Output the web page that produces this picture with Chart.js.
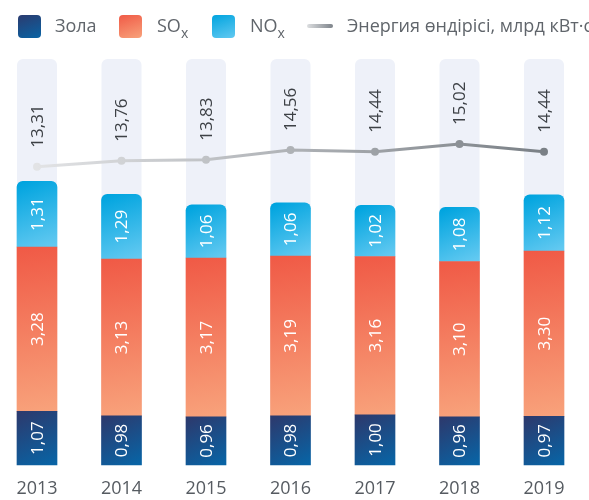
<!DOCTYPE html>
<html>
<head>
<meta charset="utf-8">
<script src="https://cdn.jsdelivr.net/npm/chart.js@4/dist/chart.umd.min.js"></script>
<style>
  html, body { margin: 0; padding: 0; background: #fff; }
  #wrap { position: relative; width: 589px; height: 500px; overflow: hidden; }
  #c { position: absolute; left: 0; top: 0; }
  #legend { position: absolute; left: 0; top: 15px; height: 23px; width: 589px; white-space: nowrap;
    font-family: "Open Sans", sans-serif; font-size: 18px; color: #60656b; }
  .box { position: absolute; top: 0; width: 23px; height: 23px; border-radius: 4px; }
  .lbl { position: absolute; top: -1px; line-height: 23px; }
  sub { font-size: 14px; vertical-align: -6px; line-height: 0; }
  .ln { position: absolute; top: 9px; width: 26px; height: 4px; border-radius: 2px;
    background: linear-gradient(90deg, #dcdee0, #7d838a); }
</style>
</head>
<body>
<div id="wrap">
  <canvas id="c" width="589" height="500"></canvas>
  <div id="legend">
    <div class="box" style="left:18px;background:linear-gradient(160deg,#2b3b6f,#0963a4);"></div>
    <div class="lbl" style="left:55px;">Зола</div>
    <div class="box" style="left:119px;background:linear-gradient(160deg,#f05a46,#f8a27b);"></div>
    <div class="lbl" style="left:157px;">SO<sub>x</sub></div>
    <div class="box" style="left:212px;background:linear-gradient(160deg,#00a4df,#62c9f1);"></div>
    <div class="lbl" style="left:250px;">NO<sub>x</sub></div>
    <div class="ln" style="left:307px;"></div>
    <div class="lbl" style="left:347px;">Энергия өндірісі, млрд кВт·с</div>
  </div>
</div>
<script>
// ---- data ----
const years  = ['2013', '2014', '2015', '2016', '2017', '2018', '2019'];
const zola   = [1.07, 0.98, 0.96, 0.98, 1.00, 0.96, 0.97];
const sox    = [3.28, 3.13, 3.17, 3.19, 3.16, 3.10, 3.30];
const nox    = [1.31, 1.29, 1.06, 1.06, 1.02, 1.08, 1.12];
const energy = [13.31, 13.76, 13.83, 14.56, 14.44, 15.02, 14.44];

const series = [zola, sox, nox];
const FONT = '"Open Sans", sans-serif';
const fmt = v => v.toFixed(2).replace('.', ',');

function segGrad(dsIndex, top, bottom) {
  return (c) => {
    const chart = c.chart;
    const ca = chart.chartArea;
    if (!ca || c.type !== 'data' || !chart.scales.y) return bottom;
    const j = c.dataIndex;
    let base = 0;
    for (let k = 0; k < dsIndex; k++) base += series[k][j];
    const y = chart.scales.y, x = chart.scales.x;
    const yTop = y.getPixelForValue(base + series[dsIndex][j]);
    const yBot = y.getPixelForValue(base);
    const xc = x.getPixelForValue(j);
    const g = chart.ctx.createLinearGradient(xc - 12, yTop, xc + 12, yBot);
    g.addColorStop(0, top);
    g.addColorStop(1, bottom);
    return g;
  };
}

function lineGrad(c) {
  const chart = c.chart;
  const ca = chart.chartArea;
  if (!ca) return '#9a9fa4';
  const g = chart.ctx.createLinearGradient(ca.left, 0, ca.right, 0);
  g.addColorStop(0, '#e2e3e5');
  g.addColorStop(0.45, '#b4b7bb');
  g.addColorStop(1, '#7a8086');
  return g;
}

const bgBars = {
  id: 'bgBars',
  beforeDatasetsDraw(chart) {
    const meta = chart.getDatasetMeta(1);
    const ca = chart.chartArea;
    const ctx = chart.ctx;
    ctx.save();
    ctx.fillStyle = '#eef1f9';
    meta.data.forEach(el => {
      const w = el.width;
      const x0 = el.x - w / 2;
      ctx.beginPath();
      ctx.roundRect(x0, ca.top, w, ca.bottom - ca.top, [6, 6, 0, 0]);
      ctx.fill();
    });
    ctx.restore();
  }
};

const valueLabels = {
  id: 'valueLabels',
  afterDatasetsDraw(chart) {
    const ctx = chart.ctx;
    ctx.save();
    [1, 2, 3].forEach((di, si) => {
      const meta = chart.getDatasetMeta(di);
      meta.data.forEach((el, j) => {
        const yc = (el.y + el.base) / 2;
        ctx.save();
        ctx.translate(el.x, yc);
        ctx.rotate(-Math.PI / 2);
        ctx.fillStyle = '#ffffff';
        ctx.font = '17px ' + FONT;
        ctx.textAlign = 'center';
        ctx.textBaseline = 'middle';
        ctx.fillText(fmt(series[si][j]), 0, 1);
        ctx.restore();
      });
    });
    const lm = chart.getDatasetMeta(0);
    lm.data.forEach((pt, j) => {
      ctx.save();
      ctx.translate(pt.x, pt.y - 19);
      ctx.rotate(-Math.PI / 2);
      ctx.fillStyle = '#3d4146';
      ctx.font = '17px ' + FONT;
      ctx.textAlign = 'left';
      ctx.textBaseline = 'middle';
      ctx.fillText(fmt(energy[j]), 0, 1);
      ctx.restore();
    });
    ctx.restore();
  }
};

new Chart(document.getElementById('c'), {
  data: {
    labels: years,
    datasets: [
      {
        type: 'line', label: 'Энергия өндірісі, млрд кВт·с', data: energy, yAxisID: 'y2',
        borderColor: lineGrad, borderWidth: 3, tension: 0, clip: false,
        pointRadius: 4, pointBorderWidth: 0, pointBackgroundColor: lineGrad,
        order: 0
      },
      { type: 'bar', label: 'Зола', data: zola, yAxisID: 'y', stack: 's', clip: false,
        backgroundColor: segGrad(0, '#2b3b6f', '#0963a4'), barThickness: 40, order: 1 },
      { type: 'bar', label: 'SOx', data: sox, yAxisID: 'y', stack: 's', clip: false,
        backgroundColor: segGrad(1, '#f05a46', '#f8a27b'), barThickness: 40, order: 1 },
      { type: 'bar', label: 'NOx', data: nox, yAxisID: 'y', stack: 's', clip: false,
        backgroundColor: segGrad(2, '#00a4df', '#62c9f1'), barThickness: 40, order: 1,
        borderRadius: { topLeft: 6, topRight: 6, bottomLeft: 0, bottomRight: 0 }, borderSkipped: false }
    ]
  },
  options: {
    responsive: false,
    animation: false,
    layout: { padding: { top: 59, left: 37, right: 45, bottom: 0 } },
    plugins: { legend: { display: false }, tooltip: { enabled: false } },
    scales: {
      x: {
        stacked: true, offset: false,
        grid: { display: false, drawTicks: false },
        border: { display: false },
        ticks: { color: '#565b61', font: { family: FONT, size: 18 }, padding: 13, maxRotation: 0, autoSkip: false },
        afterFit: (s) => { s.height = 35; }
      },
      y: { stacked: true, display: false, min: 0, max: 8.1 },
      y2: { display: false, min: -9.1, max: 21.4 }
    }
  },
  plugins: [bgBars, valueLabels]
});
</script>
</body>
</html>
